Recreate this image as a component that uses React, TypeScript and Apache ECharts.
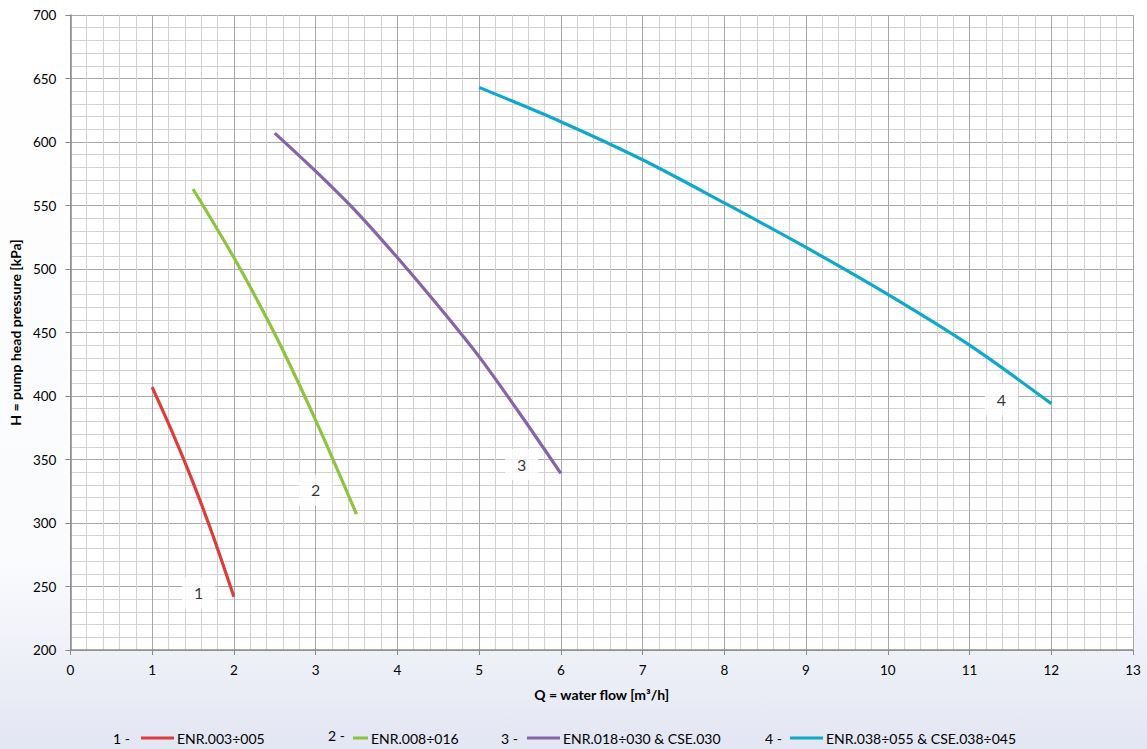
import React, { useEffect, useRef } from "react";
import * as echarts from "echarts";

const xTicks = [0, 13];
const yRange = [200, 700];

const s1X = [1, 1.25, 1.5, 1.75, 2];
const s1Y = [407, 371, 332, 289, 242];
const s2X = [1.5, 2, 2.5, 3, 3.5];
const s2Y = [563, 509, 449, 381, 307];
const s3X = [2.5, 3, 3.5, 4, 4.5, 5, 5.5, 6];
const s3Y = [607, 577, 545, 509, 471, 431, 386, 339];
const s4X = [5, 6, 7, 8, 9, 10, 11, 12];
const s4Y = [643, 616, 586, 552, 517, 480, 440, 394];

const seriesNames = [
  "ENR.003÷005",
  "ENR.008÷016",
  "ENR.018÷030 & CSE.030",
  "ENR.038÷055 & CSE.038÷045",
];
const seriesPrefixes = ["1 -", "2 -", "3 -", "4 -"];
const seriesColors = ["#dc3d3b", "#8cc43f", "#8764a8", "#0ea8c8"];

const labelNames = ["1", "2", "3", "4"];
const labelX = [1.57, 3.0, 5.52, 11.39];
const labelY = [245, 326, 346, 397];

const FONT = "Lato, 'Open Sans', sans-serif";

export default function App() {
  const ref = useRef<HTMLDivElement>(null);
  useEffect(() => {
    if (!ref.current) return;
    const chart = echarts.init(ref.current, null, { renderer: "svg" });
    const xs = [s1X, s2X, s3X, s4X];
    const ys = [s1Y, s2Y, s3Y, s4Y];
    const lineSeries = seriesNames.map((name, i) => ({
      name,
      type: "line",
      smooth: 0.3,
      showSymbol: false,
      symbol: "none",
      lineStyle: { width: 3.2, color: seriesColors[i] },
      itemStyle: { color: seriesColors[i] },
      data: xs[i].map((x, j) => [x, ys[i][j]]),
      z: 3,
    }));
    const legendLefts = [141, 353, 527, 790];
    const legendWidths = [33, 15, 33, 33];
    const prefixLefts = [113, 328, 501, 765];
    const prefixTops = [739, 736, 739, 739];
    const option = {
      animation: false,
      backgroundColor: {
        type: "linear",
        x: 0,
        y: 0,
        x2: 0,
        y2: 1,
        colorStops: [
          { offset: 0, color: "#ffffff" },
          { offset: 0.75, color: "#fafbfd" },
          { offset: 1, color: "#e3e6f3" },
        ],
      },
      textStyle: { fontFamily: FONT },
      grid: { left: 70, right: 14, top: 15, bottom: 99, show: true, backgroundColor: "#ffffff", borderWidth: 0 },
      xAxis: {
        type: "value",
        min: xTicks[0],
        max: xTicks[1],
        interval: 1,
        name: "Q = water flow [m³/h]",
        nameLocation: "middle",
        nameGap: 37,
        nameTextStyle: { fontSize: 14, fontWeight: "bold", color: "#000", fontFamily: FONT },
        axisLine: { show: true, lineStyle: { color: "#8a8a8a", width: 1.5 } },
        axisTick: { show: true, length: 5, lineStyle: { color: "#8a8a8a" } },
        axisLabel: { fontSize: 13.5, color: "#000", margin: 13, fontFamily: FONT },
        splitLine: { show: true, lineStyle: { color: "#a8a8a8", width: 1 } },
        minorTick: { show: false, splitNumber: 5 },
        minorSplitLine: { show: true, lineStyle: { color: "#d2d2d2", width: 1 } },
      },
      yAxis: {
        type: "value",
        min: yRange[0],
        max: yRange[1],
        interval: 50,
        name: "H = pump head pressure [kPa]",
        nameLocation: "middle",
        nameRotate: 90,
        nameGap: 45,
        nameTextStyle: { fontSize: 14, fontWeight: "bold", color: "#000", fontFamily: FONT },
        axisLine: { show: true, lineStyle: { color: "#8a8a8a", width: 1.5 } },
        axisTick: { show: true, length: 5, lineStyle: { color: "#8a8a8a" } },
        axisLabel: { fontSize: 13.5, color: "#000", margin: 14, fontFamily: FONT },
        splitLine: { show: true, lineStyle: { color: "#a8a8a8", width: 1 } },
        minorTick: { show: false, splitNumber: 5 },
        minorSplitLine: { show: true, lineStyle: { color: "#d2d2d2", width: 1 } },
      },
      legend: seriesNames.map((name, i) => ({
        data: [name],
        left: legendLefts[i],
        top: 731,
        itemWidth: legendWidths[i],
        itemHeight: 3,
        itemGap: 4,
        icon: "rect",
        selectedMode: false,
        padding: 0,
        textStyle: { fontSize: 14, color: "#000", fontFamily: FONT, padding: [0, 0, 0, -2] },
      })),
      graphic: seriesPrefixes.map((p, i) => ({
        type: "text",
        left: prefixLefts[i],
        top: prefixTops[i] - 8,
        style: { text: p, fontSize: 14, fill: "#000", fontFamily: FONT },
      })),
      series: [
        ...lineSeries,
        {
          type: "scatter",
          symbolSize: 1,
          itemStyle: { color: "rgba(0,0,0,0)" },
          z: 5,
          label: {
            show: true,
            position: "inside",
            formatter: (p: any) => p.name,
            backgroundColor: "#ffffff",
            padding: [8, 12, 7, 12],
            fontSize: 16,
            color: "#000",
            fontFamily: FONT,
          },
          data: labelNames.map((n, i) => ({ name: n, value: [labelX[i], labelY[i]] })),
        },
      ],
    };
    chart.setOption(option as any);
    return () => chart.dispose();
  }, []);
  return (
    <div
      ref={ref}
      style={{ position: "fixed", left: 0, top: 0, width: 1147, height: 749 }}
    />
  );
}
